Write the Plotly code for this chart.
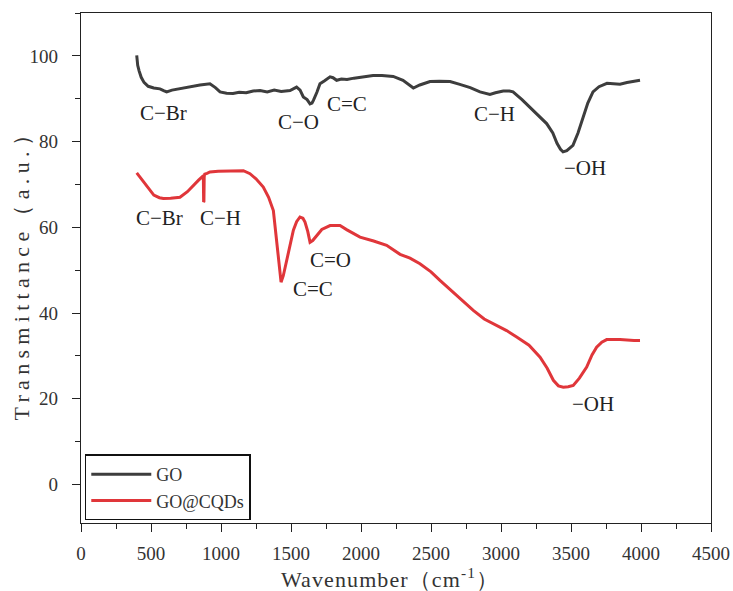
import plotly.graph_objects as go

# GO spectrum (wavenumber, transmittance)
go_wn = [398, 400, 405, 415, 430, 450, 480, 520, 564, 590, 612, 650, 700, 755, 800, 850, 921, 960,
         993, 1040, 1086, 1130, 1180, 1230, 1279, 1330, 1380, 1430, 1493, 1540, 1565, 1588, 1615,
         1636, 1650, 1660, 1685, 1707, 1740, 1779, 1800, 1826, 1860, 1900, 1950, 2000, 2086,
         2150, 2230, 2300, 2340, 2374, 2420, 2493, 2560, 2636, 2700, 2780, 2850, 2900, 2921,
         2960, 3016, 3060, 3086, 3150, 3229, 3280, 3326, 3370, 3400, 3425, 3443, 3470, 3514,
         3550, 3586, 3620, 3657, 3700, 3757, 3800, 3850, 3900, 3950, 3993]
go_t = [100.1, 98.5, 97.8, 96.5, 95.0, 93.8, 92.9, 92.5, 92.3, 91.9, 91.6, 92.0, 92.3, 92.7, 93.0, 93.2,
        93.5, 92.6, 91.6, 91.3, 91.2, 91.5, 91.4, 91.8, 91.9, 91.6, 92.0, 91.7, 91.9, 92.7, 92.0,
        90.4, 89.8, 88.8, 89.0, 89.6, 91.5, 93.5, 94.2, 95.1, 94.9, 94.3, 94.6, 94.5, 94.8, 95.0,
        95.4, 95.4, 95.2, 94.3, 93.3, 92.5, 93.2, 94.0, 94.1, 94.0, 93.4, 92.6, 91.6, 91.2, 91.0,
        91.4, 91.8, 91.8, 91.6, 89.8, 87.3, 85.8, 84.2, 82.0, 79.6, 78.2, 77.6, 77.9, 79.1, 82.0,
        85.7, 89.0, 91.6, 92.8, 93.6, 93.5, 93.4, 93.8, 94.0, 94.3]

# GO@CQDs spectrum
cqd_wn = [398, 430, 470, 520, 560, 588, 640, 707, 760, 802, 840, 869, 874, 876, 878, 880, 884, 900,
          921, 980, 1050, 1112, 1160, 1207, 1250, 1302, 1340, 1374, 1398, 1415, 1429, 1445, 1469,
          1495, 1517, 1540, 1564, 1585, 1600, 1620, 1636, 1655, 1683, 1720, 1779, 1820, 1850,
          1900, 1993, 2090, 2183, 2279, 2350, 2421, 2500, 2564, 2680, 2802, 2880, 2969, 3040,
          3112, 3200, 3279, 3330, 3374, 3410, 3445, 3480, 3516, 3560, 3612, 3650, 3683, 3720,
          3755, 3850, 3950, 3993]
cqd_t = [72.7, 71.4, 69.5, 67.5, 66.9, 66.7, 66.8, 67.0, 68.3, 69.8, 71.0, 71.9, 71.8, 65.9, 66.0,
         71.8, 72.4, 72.6, 72.9, 73.1, 73.2, 73.3, 73.2, 72.5, 71.3, 69.4, 67.0, 63.9, 56.9, 51.5,
         47.2, 48.7, 52.3, 56.5, 59.3, 61.3, 62.4, 62.1, 61.2, 59.0, 56.5, 56.9, 58.1, 59.5, 60.4,
         60.5, 60.4, 59.4, 57.7, 56.8, 55.8, 53.7, 52.8, 51.5, 49.6, 47.6, 44.2, 40.6, 38.6, 37.1,
         35.9, 34.4, 32.5, 29.7, 27.1, 24.3, 23.0, 22.7, 22.8, 23.1, 24.8, 27.4, 30.2, 32.0, 33.2,
         33.8, 33.8, 33.6, 33.6]

# peak labels: (wavenumber, transmittance, text)
go_lbl_x = [586, 1550, 1898, 2957, 3600]
go_lbl_y = [86.6, 84.5, 88.8, 86.5, 73.8]
go_lbl_t = ["C−Br", "C−O", "C=C", "C−H", "−OH"]
cqd_lbl_x = [564, 993, 1779, 1657, 3655]
cqd_lbl_y = [62.1, 62.1, 52.3, 45.7, 18.7]
cqd_lbl_t = ["C−Br", "C−H", "C=O", "C=C", "−OH"]

x_ticks = [0, 500, 1000, 1500, 2000, 2500, 3000, 3500, 4000, 4500]
y_ticks = [0, 20, 40, 60, 80, 100]

x_title = "Wavenumber（cm<sup>-1</sup>）"
y_title = "Transmittance（a.u.）"

FONT = "Liberation Serif"
TXT = "#333333"

fig = go.Figure()
fig.add_trace(go.Scatter(x=go_wn, y=go_t, mode="lines", name="GO",
                         line=dict(color="#3d3d3d", width=3)))
fig.add_trace(go.Scatter(x=cqd_wn, y=cqd_t, mode="lines", name="GO@CQDs",
                         line=dict(color="#e0363a", width=3)))

for xs, ys, ts in [(go_lbl_x, go_lbl_y, go_lbl_t), (cqd_lbl_x, cqd_lbl_y, cqd_lbl_t)]:
    for x, y, t in zip(xs, ys, ts):
        fig.add_annotation(x=x, y=y, text=t, showarrow=False,
                           font=dict(family=FONT, size=21, color="#222222"))

# axis titles
fig.add_annotation(xref="paper", yref="paper", x=0.49, y=-0.108, xanchor="center",
                   yanchor="middle", showarrow=False,
                   text='<span style="letter-spacing:1.1px">' + x_title + '</span>',
                   font=dict(family=FONT, size=22, color=TXT))
fig.add_annotation(xref="paper", yref="paper", x=-0.0937, y=0.497, xanchor="center",
                   yanchor="middle", showarrow=False, textangle=-90,
                   text='<span style="letter-spacing:5.3px">' + y_title + '</span>',
                   font=dict(family=FONT, size=22, color=TXT))

axis_common = dict(showgrid=False, zeroline=False, showline=True, linecolor="#222222",
                   linewidth=1.3, mirror=True, ticks="outside", ticklen=8, tickwidth=1.2,
                   tickcolor="#222222", automargin=False,
                   tickfont=dict(family=FONT, size=19, color=TXT))

fig.update_xaxes(range=[0, 4500], tickvals=x_ticks, ticklabelstandoff=5,
                 minor=dict(ticks="outside", ticklen=5, dtick=250, tick0=0, tickcolor="#222222"),
                 **axis_common)
fig.update_yaxes(range=[-9, 110], tickvals=y_ticks, ticklabelstandoff=10,
                 minor=dict(ticks="outside", ticklen=5, dtick=10, tick0=0, tickcolor="#222222"),
                 **axis_common)

fig.update_layout(
    width=733, height=591,
    margin=dict(l=81, r=22, t=13, b=68),
    plot_bgcolor="white", paper_bgcolor="white",
    legend=dict(x=0.006, y=0.005, xanchor="left", yanchor="bottom",
                bgcolor="white", bordercolor="#111111", borderwidth=1.5,
                itemwidth=60,
                font=dict(family=FONT, size=18, color=TXT)),
)

# remove the default page margin so the figure fills the window exactly; hide the modebar
fig.write_html("out.html", config={"displayModeBar": False},
               post_script="document.body.style.margin='0px';")
